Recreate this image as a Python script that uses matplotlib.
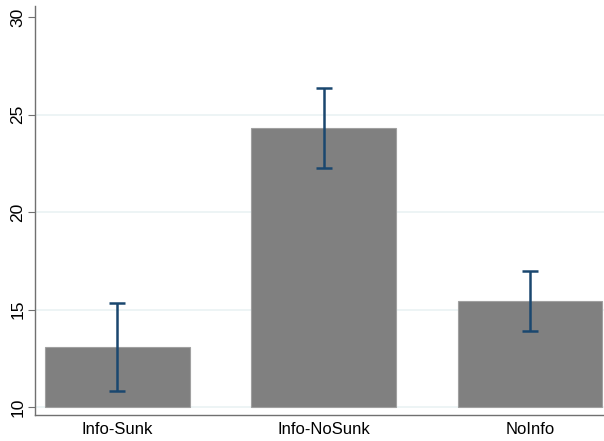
import matplotlib
matplotlib.use('Agg')
import numpy as np
import matplotlib.pyplot as plt

plt.rcParams['font.family'] = ['Liberation Sans', 'DejaVu Sans']

# group means and 95% CI bounds
groups = ['Info-Sunk', 'Info-NoSunk', 'NoInfo']
means = [13.08, 24.31, 15.44]
ci_low = [10.82, 22.26, 13.90]
ci_high = [15.33, 26.36, 16.97]
yticks = [10, 15, 20, 25, 30]

fig = plt.figure(figsize=(6.04, 4.41), dpi=100)
ax = fig.add_axes([0.058, 0.059, 0.942, 0.927])

x = np.arange(len(groups))
m = np.array(means)
lo = m - np.array(ci_low)
hi = np.array(ci_high) - m

for g in [10, 15, 20, 25]:
    ax.axhline(g, color='#eaf2f3', lw=1.2, zorder=0)

ax.bar(x, m - 10, bottom=10, width=0.7, color='#808080',
       edgecolor='#a0a0a0', linewidth=0.8, zorder=2)
ax.errorbar(x, m, yerr=[lo, hi], fmt='none', ecolor='#1a476f',
            elinewidth=1.8, capsize=6, capthick=1.8, zorder=3)

ax.set_xlim(-0.4, 2.36)
ax.set_ylim(9.59, 30.56)
ax.set_xticks(x)
ax.set_xticklabels(groups, fontsize=12)
ax.set_yticks(yticks)
ax.set_yticklabels([str(t) for t in yticks], rotation=90, va='center', fontsize=12.5)
ax.tick_params(axis='x', length=0, pad=5)
ax.tick_params(axis='y', length=5, color='#707070', pad=2)

ax.spines['top'].set_visible(False)
ax.spines['right'].set_visible(False)
for s in ['left', 'bottom']:
    ax.spines[s].set_color('#707070')
    ax.spines[s].set_linewidth(1.0)

fig.savefig('out.png', dpi=100)
